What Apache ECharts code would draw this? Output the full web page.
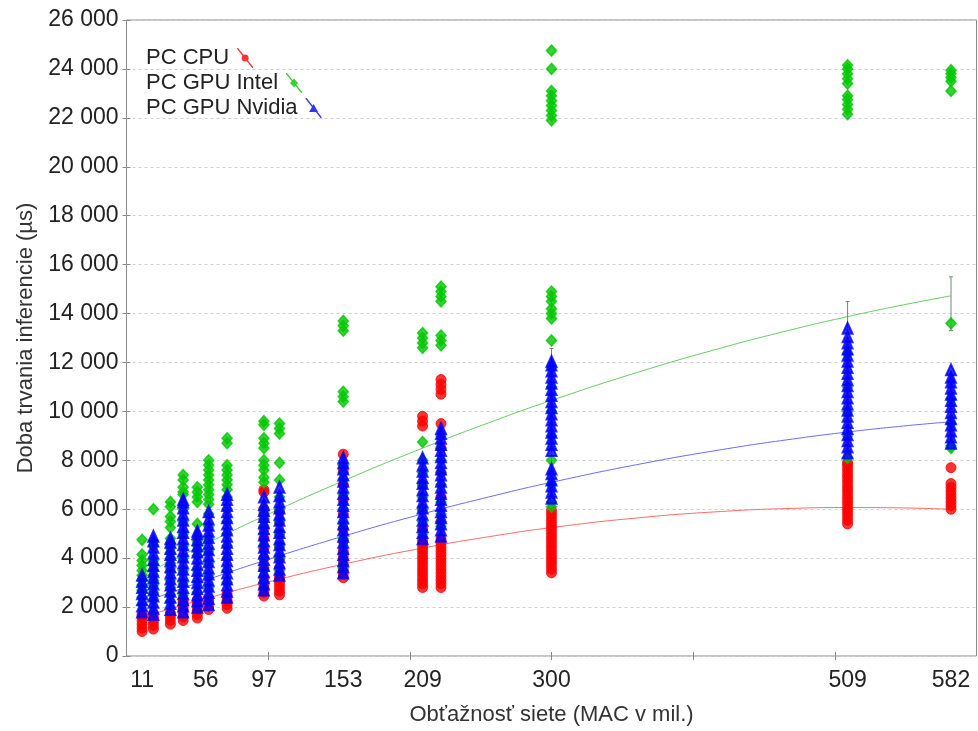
<!DOCTYPE html>
<html>
<head>
<meta charset="utf-8">
<script src="https://cdn.jsdelivr.net/npm/echarts@6/dist/echarts.min.js"></script>
<style>
html,body{margin:0;padding:0;background:#fff;}
#chart{width:978px;height:731px;}
</style>
</head>
<body>
<div id="chart"></div>
<script>
// x tick labels (MAC in millions) and axis ticks
const xLabels = [11, 56, 97, 153, 209, 300, 509, 582];
const xTicks = [100, 200, 300, 400, 500];
const seriesNames = ['PC CPU', 'PC GPU Intel', 'PC GPU Nvidia'];

// x position of every measured network column
const colX = [11, 19, 31, 40, 50, 58, 71, 97, 108, 153, 209, 222, 300, 509, 582];

// PC CPU inference times (µs) per column
const cpuCols = [
  [1000,1150,1300,1450,1600,1700],
  [1100,1250,1400,1550,1700],
  [1300,1450,1600,1750],
  [1450,1600,1750,1900,2050,2200,2300],
  [1550,1700,1850,2000,2150,2300],
  [1900,2050,2200,2350],
  [1950,2100,2250,2400,2550],
  [2450,2600,2750,2900,3200,3600,4000,4400,4800,5200,5600,5800,6000,6700,6800],
  [2500,2650,2800,2950,3100,3250,3600,4000,4500,5000,5500,5900],
  [3200,3350,3500,3700,3900,4100,4300,4700,5200,5800,6400,7000,7600,8250],
  [2800,2950,3100,3250,3400,3550,3700,3850,4000,4150,4300,4450,4600,4750,5200,6000,7000,9400,9600,9800],
  [2800,2950,3100,3250,3400,3550,3700,3850,4000,4150,4300,4450,4600,4800,5500,6500,7500,8500,9500,10700,10900,11100,11300],
  [3400,3550,3700,3850,4000,4150,4300,4450,4600,4750,4900,5050,5200,5350,5500,5650,5800,5950],
  [5400,5550,5700,5850,6000,6150,6300,6450,6600,6750,6900,7050,7200,7350,7500,7650,7800,7900],
  [6000,6150,6300,6450,6600,6750,6900,7050,7700]
];

// PC GPU Intel inference times (µs) per column
const intelCols = [
  [2100,2400,2700,2900,3100,3300,3500,3700,3900,4150,4750],
  [2300,2600,2900,3100,3300,3500,3700,3900,4500,4700,6000],
  [2200,2500,2800,3100,3400,3600,3800,4000,4200,4400,4600,4800,5250,5500,5700,6100,6300],
  [2500,3000,3500,4000,4500,5000,5500,6000,6600,6700,6900,7200,7400],
  [2600,3000,3500,4100,4300,4500,4700,5400,6300,6500,6700,6900],
  [2800,3300,3800,4300,4800,5300,5800,6200,6400,6600,6800,7000,7200,7400,7600,7800,8000],
  [3000,3500,4000,4500,5000,5500,6000,6500,6800,7000,7200,7400,7600,7800,8700,8900],
  [3000,3500,4000,4500,5000,5300,5600,5900,7100,7300,7600,7800,8000,8500,8700,8900,9450,9600],
  [3500,4000,4500,5000,5500,6000,6500,7200,7900,9100,9300,9500],
  [3600,4200,4800,5400,6000,6600,7200,7500,7800,10400,10600,10800,13300,13500,13700],
  [5000,5500,6000,6500,7000,7500,8000,8750,12600,12800,13000,13200],
  [5300,5500,5800,6300,7000,7500,8000,8500,9000,12700,12900,13100,14500,14700,14900,15100],
  [6100,6300,7000,8000,9000,10000,11000,11800,12900,13800,14000,14200,14500,14700,14900,21900,22100,22300,22500,22700,22900,23100,24000,24750],
  [8100,9000,10000,11000,12350,22150,22350,22550,22750,22900,23400,23600,23800,24000,24150],
  [8500,8600,9500,10500,13600,23100,23500,23650,23800,23950]
];

// PC GPU Nvidia inference times (µs) per column
const nvidiaCols = [
  [1800,2050,2300,2550,2800,3050,3300],
  [1700,1950,2200,2450,2700,2950,3200,3450,3700,3950,4200,4450,4700,4900],
  [1900,2150,2400,2650,2900,3150,3400,3650,3900,4150,4400,4650,4800],
  [1800,2050,2300,2550,2800,3050,3300,3550,3800,4050,4300,4550,4800,5050,5300,5550,5800,6050,6300,6400],
  [2000,2250,2500,2750,3000,3250,3500,3750,4000,4250,4500,4750,5000,5100],
  [2100,2350,2600,2850,3100,3350,3600,3850,4100,4350,4600,4850,5100,5350,5600,5900],
  [2400,2650,2900,3150,3400,3650,3900,4150,4400,4650,4900,5150,5400,5650,5900,6150,6400,6600],
  [2700,2950,3200,3450,3700,3950,4200,4450,4700,4950,5200,5450,5700,5950,6200,6500],
  [3300,3550,3800,4050,4300,4550,4800,5050,5300,5550,5800,6050,6300,6550,6900],
  [3400,3650,3900,4150,4400,4650,4900,5150,5400,5650,5900,6150,6400,6650,6900,7150,7400,7650,7900,8100],
  [4800,5050,5300,5550,5800,6050,6300,6550,6800,7050,7300,7550,7800,8100],
  [4900,5150,5400,5650,5900,6150,6400,6650,6900,7150,7400,7650,7900,8150,8400,8650,8900,9100,9300],
  [6450,6700,6950,7200,7450,7650,8400,8650,8900,9150,9400,9650,9900,10150,10400,10650,10900,11150,11400,11650,11900,12050],
  [8300,8550,8800,9050,9300,9550,9800,10050,10300,10550,10800,11050,11300,11550,11800,12050,12300,12550,12800,13050,13400],
  [8700,8950,9200,9450,9700,9950,10200,10450,10700,10950,11200,11400,11700]
];

// fitted trend curves
const fitX = [11, 30, 56, 97, 153, 209, 260, 300, 360, 420, 470, 509, 545, 582];
const cpuFit = [1584, 1915, 2348, 2982, 3751, 4411, 4916, 5249, 5641, 5908, 6034, 6071, 6057, 5996];
const intelFit = [3288, 3846, 4588, 5713, 7158, 8498, 9626, 10449, 11583, 12595, 13346, 13873, 14315, 14724];
const nvidiaFit = [2173, 2572, 3100, 3893, 4896, 5809, 6563, 7100, 7820, 8436, 8868, 9156, 9383, 9576];

// error bars on the Intel fit
const errX = [300, 509, 582];
const errLow = [7850, 13330, 13300];
const errHigh = [12570, 14490, 15500];

const FONT = "'Liberation Sans', Arial, sans-serif";
const TXT = '#222';

function toPoints(cols) {
  const out = [];
  cols.forEach((vals, i) => vals.forEach(v => out.push([colX[i], v])));
  return out;
}
function pairs(xs, ys) { return xs.map((x, i) => [x, ys[i]]); }

const line = 'M0,0 L1,0 L16,19 L16,20 L15,20 L0,1 Z ';
const icons = [
  'path://' + line + 'M4.5,10 A3.5,3.5 0 1 1 11.5,10 A3.5,3.5 0 1 1 4.5,10 Z',
  'path://' + line + 'M8,5.5 L12,10 L8,14.5 L4,10 Z',
  'path://' + line + 'M8,6 L12.5,14 L3.5,14 Z'
];

const legends = seriesNames.map((n, i) => ({
  orient: 'vertical', left: 146, top: 47 + 25 * i, align: 'right',
  itemWidth: 16, itemHeight: 20, padding: 0,
  textStyle: { fontFamily: FONT, fontSize: 22, color: TXT, padding: [0, 3, 0, 0] },
  itemStyle: { borderWidth: 0 },
  data: [{ name: n, icon: icons[i] }]
}));

const chart = echarts.init(document.getElementById('chart'));
chart.setOption({
  animation: false,
  backgroundColor: '#fff',
  grid: { left: 126.5, right: 1.5, top: 20, bottom: 72, show: true, borderColor: '#8a8a8a', borderWidth: 1, backgroundColor: 'transparent' },
  legend: legends,
  xAxis: [{
    type: 'value', min: 0, max: 600, interval: 100,
    name: 'Obťažnosť siete (MAC v mil.)', nameLocation: 'middle', nameGap: 48,
    nameTextStyle: { fontFamily: FONT, fontSize: 22, color: '#333' },
    axisLine: { show: false },
    axisTick: { show: true, inside: true, length: 4, customValues: xTicks, lineStyle: { color: '#8a8a8a' } },
    axisLabel: { customValues: xLabels, margin: 13, fontFamily: FONT, fontSize: 23, color: TXT },
    splitLine: { show: false }
  }, {
    type: 'value', min: 0, max: 600, interval: 100, position: 'top',
    axisLine: { show: false },
    axisTick: { show: true, inside: true, length: 4, customValues: xTicks, lineStyle: { color: '#8a8a8a' } },
    axisLabel: { show: false }, splitLine: { show: false }
  }],
  yAxis: [{
    type: 'value', min: 0, max: 26000, interval: 2000,
    name: 'Doba trvania inferencie (µs)', nameLocation: 'middle', nameGap: 88, nameRotate: 90,
    nameTextStyle: { fontFamily: FONT, fontSize: 22, color: '#333' },
    axisLine: { show: false },
    axisTick: { show: true, inside: true, length: 4, lineStyle: { color: '#8a8a8a' } },
    axisLabel: {
      margin: 8, fontFamily: FONT, fontSize: 23, color: TXT,
      formatter: v => String(v).replace(/\B(?=(\d{3})+(?!\d))/g, ' ')
    },
    splitLine: { show: true, lineStyle: { color: '#cfcfcf', type: [3, 3], width: 1 } }
  }, {
    type: 'value', min: 0, max: 26000, interval: 2000, position: 'right',
    axisLine: { show: false },
    axisTick: { show: true, inside: true, length: 4, lineStyle: { color: '#8a8a8a' } },
    axisLabel: { show: false }, splitLine: { show: false }
  }],
  series: [
    { name: 'fitCpu', type: 'line', smooth: true, showSymbol: false, z: 1, silent: true,
      lineStyle: { color: '#ff6a6a', width: 1 }, data: pairs(fitX, cpuFit) },
    { name: 'fitIntel', type: 'line', smooth: true, showSymbol: false, z: 1, silent: true,
      lineStyle: { color: '#66cc66', width: 1 }, data: pairs(fitX, intelFit) },
    { name: 'fitNvidia', type: 'line', smooth: true, showSymbol: false, z: 1, silent: true,
      lineStyle: { color: '#6a6aff', width: 1 }, data: pairs(fitX, nvidiaFit) },
    { name: 'errIntel', type: 'custom', z: 2, silent: true,
      data: errX.map((x, i) => [x, errLow[i], errHigh[i]]),
      renderItem: (params, api) => {
        const lo = api.coord([api.value(0), api.value(1)]);
        const hi = api.coord([api.value(0), api.value(2)]);
        const st = { stroke: '#6f8a6f', lineWidth: 1 };
        return { type: 'group', children: [
          { type: 'line', shape: { x1: lo[0], y1: lo[1], x2: hi[0], y2: hi[1] }, style: st },
          { type: 'line', shape: { x1: lo[0] - 2, y1: lo[1], x2: lo[0] + 2, y2: lo[1] }, style: st },
          { type: 'line', shape: { x1: hi[0] - 2, y1: hi[1], x2: hi[0] + 2, y2: hi[1] }, style: st }
        ] };
      } },
    { name: seriesNames[0], type: 'scatter', z: 3, symbol: 'circle', symbolSize: 10,
      itemStyle: { color: '#ff0000', borderColor: '#ff0000', borderWidth: 1 }, data: toPoints(cpuCols) },
    { name: seriesNames[1], type: 'scatter', z: 4, symbol: 'diamond', symbolSize: [10, 11],
      itemStyle: { color: '#00c800', borderColor: '#00c800', borderWidth: 1.5 }, data: toPoints(intelCols) },
    { name: seriesNames[2], type: 'scatter', z: 5, symbol: 'triangle', symbolSize: [10, 11],
      itemStyle: { color: '#0000ff', borderColor: '#0000ff', borderWidth: 2 }, data: toPoints(nvidiaCols) }
  ]
});
</script>
</body>
</html>
